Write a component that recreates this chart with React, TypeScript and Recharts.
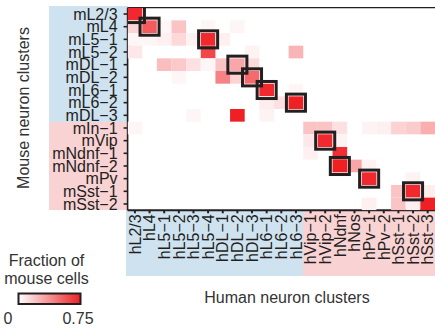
import { ScatterChart, Scatter, XAxis, YAxis } from 'recharts'

// mouse clusters (rows, top to bottom) and human clusters (columns)
const mouseClusters = [
  'mL2/3', 'mL4', 'mL5−1', 'mL5−2', 'mDL−1', 'mDL−2', 'mL6−1', 'mL6−2', 'mDL−3',
  'mIn−1', 'mVip', 'mNdnf−1', 'mNdnf−2', 'mPv', 'mSst−1', 'mSst−2',
]
const humanClusters = [
  'hL2/3', 'hL4', 'hL5−1', 'hL5−2', 'hL5−3', 'hL5−4', 'hDL−1', 'hDL−2', 'hDL−3',
  'hL6−1', 'hL6−2', 'hL6−3', 'hVip−1', 'hVip−2', 'hNdnf', 'hNos', 'hPv−1', 'hPv−2',
  'hSst−1', 'hSst−2', 'hSst−3',
]
const nExcMouse = 9
const nExcHuman = 12

// fraction of mouse cells, one line per mouse cluster
const fractions = [
  [0.72, 0, 0, 0, 0, 0, 0, 0, 0, 0, 0, 0, 0, 0, 0, 0, 0, 0, 0, 0, 0],
  [0.14, 0.55, 0.03, 0.2, 0, 0.03, 0, 0.03, 0, 0, 0, 0, 0, 0, 0, 0, 0, 0, 0, 0, 0],
  [0.03, 0.03, 0.05, 0.13, 0.04, 0.72, 0.05, 0, 0, 0, 0, 0, 0, 0, 0, 0, 0, 0, 0, 0, 0],
  [0.08, 0, 0, 0, 0, 0.62, 0, 0, 0.04, 0, 0, 0.25, 0, 0, 0, 0, 0, 0, 0, 0, 0],
  [0, 0, 0.22, 0.18, 0.1, 0.03, 0.2, 0.3, 0.12, 0, 0, 0, 0, 0, 0, 0, 0, 0, 0, 0, 0],
  [0, 0, 0, 0.03, 0, 0, 0.42, 0.15, 0.5, 0, 0, 0, 0, 0, 0, 0, 0, 0, 0, 0, 0],
  [0, 0, 0, 0, 0, 0, 0, 0, 0, 0.72, 0, 0.03, 0, 0, 0, 0, 0, 0, 0, 0, 0],
  [0, 0, 0, 0, 0, 0, 0, 0, 0, 0.06, 0.1, 0.75, 0, 0, 0, 0, 0, 0, 0, 0, 0],
  [0, 0, 0, 0, 0.03, 0, 0, 0.75, 0, 0.04, 0, 0, 0, 0, 0, 0, 0, 0, 0, 0, 0],
  [0.03, 0, 0, 0, 0, 0, 0, 0, 0, 0, 0, 0, 0.2, 0.2, 0.1, 0, 0.04, 0.05, 0.15, 0.17, 0.27],
  [0, 0, 0, 0, 0, 0, 0, 0, 0, 0, 0, 0, 0.08, 0.72, 0.04, 0, 0, 0, 0, 0, 0],
  [0, 0, 0, 0, 0, 0, 0, 0, 0, 0, 0, 0, 0.05, 0, 0.7, 0, 0, 0, 0, 0, 0],
  [0, 0, 0, 0, 0, 0, 0, 0, 0, 0, 0, 0, 0, 0, 0.75, 0.3, 0.04, 0, 0, 0, 0],
  [0, 0, 0, 0, 0, 0, 0, 0, 0, 0, 0, 0, 0, 0, 0, 0, 0.72, 0, 0, 0.04, 0],
  [0, 0, 0, 0, 0, 0, 0, 0, 0, 0, 0, 0, 0, 0, 0, 0, 0, 0, 0.2, 0.72, 0.06],
  [0, 0, 0, 0, 0, 0, 0, 0, 0, 0, 0, 0, 0, 0, 0, 0, 0.05, 0, 0.2, 0.05, 0.75],
]

// best-matching pairs (boxed), 1-based row / column
const matchRow = [1, 2, 3, 5, 6, 7, 8, 11, 13, 14, 15]
const matchCol = [1, 2, 6, 8, 9, 10, 12, 14, 15, 17, 20]

const maxFraction = 0.75
const RED = [238, 32, 36]

const W = 435
const H = 330
const LEFT = 127.6
const TOP = 7.7
const BOTTOM = 210.3
const plotW = W - LEFT
const plotH = BOTTOM - TOP
const cellW = plotW / humanClusters.length
const cellH = plotH / mouseClusters.length

const BLUE_BG = '#cfe2f0'
const PINK_BG = '#f9d2d4'
const INK = '#231f20'
const FONT = '"Liberation Sans", Arial, Helvetica, sans-serif'

const heat = (v: number) => {
  const t = Math.min(1, v / maxFraction)
  const c = RED.map((ch) => Math.round(255 + (ch - 255) * t))
  return `rgb(${c[0]},${c[1]},${c[2]})`
}

const cells = fractions.flatMap((row, r) =>
  row.map((v, c) => ({ x: c + 1, y: r + 1, v })).filter((d) => d.v > 0)
)
const boxes = matchRow.map((r, i) => ({ x: matchCol[i], y: r }))

const CellShape = (props: any) => {
  const { cx, cy, payload } = props
  return <rect x={cx - cellW / 2} y={cy - cellH / 2} width={cellW} height={cellH} fill={heat(payload.v)} />
}

const BoxShape = (props: any) => {
  const { cx, cy } = props
  const w = cellW + 4.4
  const h = cellH + 4.4
  return <rect x={cx - w / 2} y={cy - h / 2} width={w} height={h} fill="none" stroke={INK} strokeWidth={3} />
}

const HumanTick = (props: any) => {
  const { x, y, payload } = props
  return (
    <text
      x={x}
      y={y}
      transform={`rotate(-90 ${x} ${y})`}
      textAnchor="end"
      dy="0.36em"
      fontSize={16}
      fill={INK}
    >
      {humanClusters[payload.value - 1]}
    </text>
  )
}

const colTicks = humanClusters.map((_, i) => i + 1)
const rowTicks = mouseClusters.map((_, i) => i + 1)

export default function App() {
  const splitY = TOP + nExcMouse * cellH
  const splitX = LEFT + nExcHuman * cellW
  return (
    <div style={{ position: 'absolute', left: 0, top: 0, width: W, height: H, overflow: 'hidden', fontFamily: FONT, background: '#fff' }}>
      {/* group bands behind the cluster names */}
      <div style={{ position: 'absolute', left: 49, top: 6, width: LEFT - 49, height: splitY - 6, background: BLUE_BG }} />
      <div style={{ position: 'absolute', left: 49, top: splitY, width: LEFT - 49, height: BOTTOM - splitY, background: PINK_BG }} />
      <div style={{ position: 'absolute', left: 126, top: BOTTOM, width: splitX - 126, height: 276 - BOTTOM, background: BLUE_BG }} />
      <div style={{ position: 'absolute', left: splitX, top: BOTTOM, width: W - splitX, height: 276 - BOTTOM, background: PINK_BG }} />

      <div style={{ position: 'absolute', left: 0, top: 0 }}>
        <ScatterChart width={W} height={H} margin={{ top: 0, right: 0, bottom: 0, left: 0 }}>
          <XAxis
            xAxisId="top"
            orientation="top"
            type="number"
            dataKey="x"
            domain={[0.5, humanClusters.length + 0.5]}
            ticks={colTicks}
            interval={0}
            height={TOP}
            tickSize={3}
            tickFormatter={() => ''}
            stroke={INK}
            strokeWidth={1.3}
          />
          <XAxis
            type="number"
            dataKey="x"
            domain={[0.5, humanClusters.length + 0.5]}
            ticks={colTicks}
            interval={0}
            height={H - BOTTOM}
            tickSize={3}
            tickMargin={1}
            tick={<HumanTick />}
            allowDataOverflow
            stroke={INK}
            strokeWidth={2}
          />
          <YAxis
            type="number"
            dataKey="y"
            reversed
            domain={[0.5, mouseClusters.length + 0.5]}
            ticks={rowTicks}
            interval={0}
            width={LEFT}
            tickSize={4}
            tickMargin={6}
            tickFormatter={(v: number) => mouseClusters[v - 1]}
            tick={{ fill: INK, fontSize: 16 }}
            allowDataOverflow
            stroke={INK}
            strokeWidth={1.6}
          />
          <Scatter data={cells} shape={<CellShape />} isAnimationActive={false} />
          <Scatter data={boxes} shape={<BoxShape />} isAnimationActive={false} />
        </ScatterChart>
      </div>

      {/* axis titles and colour key */}
      <svg width={W} height={H} style={{ position: 'absolute', left: 0, top: 0, pointerEvents: 'none' }}>
        <defs>
          <linearGradient id="key" x1="0" x2="1" y1="0" y2="0">
            <stop offset="0" stopColor="#ffffff" />
            <stop offset="1" stopColor={heat(maxFraction)} />
          </linearGradient>
        </defs>
        <text x={29} y={108} transform="rotate(-90 29 108)" textAnchor="middle" fontSize={16} fill="#333">
          Mouse neuron clusters
        </text>
        <text x={287} y={303} textAnchor="middle" fontSize={16} fill="#333">
          Human neuron clusters
        </text>
        <text x={46.5} y={266} textAnchor="middle" fontSize={16} fill="#333">Fraction of</text>
        <text x={46.5} y={284} textAnchor="middle" fontSize={16} fill="#333">mouse cells</text>
        <rect x={18.5} y={293.5} width={62} height={10.5} fill="url(#key)" stroke={INK} strokeWidth={2} />
        <text x={8} y={324} textAnchor="middle" fontSize={16} fill="#333">0</text>
        <text x={78} y={324} textAnchor="middle" fontSize={16} fill="#333">0.75</text>
      </svg>
    </div>
  )
}
